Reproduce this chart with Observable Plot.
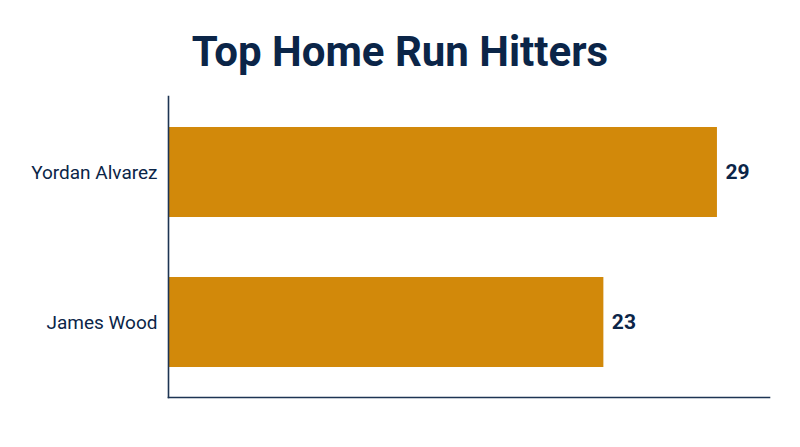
<!DOCTYPE html>
<html>
<head>
<meta charset="utf-8">
<script src="https://cdn.jsdelivr.net/npm/d3@7"></script>
<script src="https://cdn.jsdelivr.net/npm/@observablehq/plot@0.6"></script>
<style>
  html, body { margin: 0; padding: 0; background: #fff; }
  body { width: 800px; height: 447px; overflow: hidden; font-family: Roboto, sans-serif; }
  #title { height: 80px; box-sizing: border-box; padding-top: 31px; text-align: center;
           font-size: 42px; line-height: 42px; font-weight: 700; color: #0b2548; }
  #chart svg { display: block; }
</style>
</head>
<body>
<div id="title">Top Home Run Hitters</div>
<div id="chart"></div>
<script>
const players = ["Yordan Alvarez", "James Wood"];
const homeRuns = [29, 23];

const data = players.map((name, i) => ({ name, hr: homeRuns[i] }));

const navy = "#0b2548";
const chart = Plot.plot({
  width: 800,
  height: 367,
  marginLeft: 168,
  marginRight: 31,
  marginTop: 16,
  marginBottom: 50,
  style: { fontFamily: "Roboto, sans-serif", background: "#fff" },
  x: { domain: [0, 31.75], axis: null },
  y: { domain: players, paddingInner: 0.4, paddingOuter: 0.2, label: null },
  marks: [
    Plot.barX(data, { x: "hr", y: "name", fill: "#d2890a" }),
    Plot.text(data, { x: "hr", y: "name", text: d => String(d.hr), dx: 8, textAnchor: "start",
                      fontSize: 21, fontWeight: "bold", fill: navy }),
    Plot.axisY({ tickSize: 0, tickPadding: 11, fontSize: 19, color: navy, label: null }),
    Plot.frame({ anchor: "left", stroke: "#1d3453", strokeWidth: 1.6 }),
    Plot.frame({ anchor: "bottom", stroke: "#1d3453", strokeWidth: 1.6 })
  ]
});
document.getElementById("chart").appendChild(chart);
</script>
</body>
</html>
